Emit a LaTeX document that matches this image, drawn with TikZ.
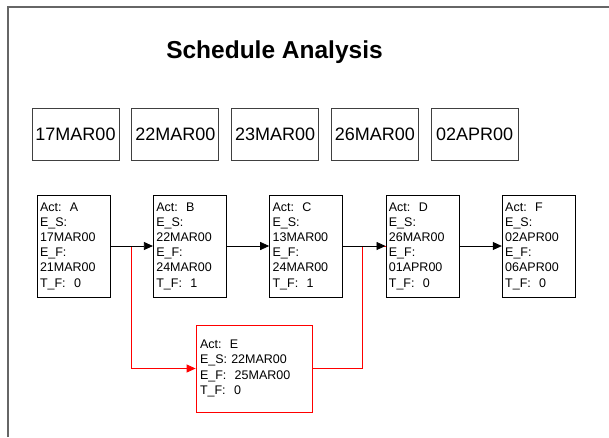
\documentclass[tikz,border=0pt]{standalone}
\usepackage{fontspec}
\setmainfont{Liberation Sans}
\usetikzlibrary{positioning,arrows.meta}

\begin{document}
\begin{tikzpicture}[x=1pt, y=-1pt,
    node distance=12pt,
    datebox/.style={rectangle, draw=black!75, line width=0.8pt, minimum width=87pt, minimum height=52pt, inner sep=0pt, text centered, font=\fontsize{18}{22}\selectfont},
    actbox/.style={rectangle, draw=black, line width=0.8pt, minimum width=73pt, minimum height=102pt, text width=67pt, inner sep=3pt, align=left, font=\fontsize{12.5}{15.2}\selectfont},
    critbox/.style={actbox, draw=red, minimum width=116pt, minimum height=87pt, text width=108pt, inner sep=4pt},
    arrow/.style={-{Triangle[length=9pt, width=8pt]}, line width=0.8pt},
    redline/.style={draw=red, line width=0.8pt},
    redarrow/.style={redline, -{Triangle[length=9pt, width=8pt]}, red}
]

\useasboundingbox (0,0) rectangle (609,437);

% Frame
\draw [black!60, line width=1.5pt] (8,437) -- (8,7) -- (609,7);

% Title
\node (title) at (274.5,52) {\fontsize{24.5}{29}\selectfont\bfseries Schedule Analysis};

% Dates
\node (d1) [datebox] at (75.5,134) {17MAR00};
\node (d2) [datebox, right=of d1] {22MAR00};
\node (d3) [datebox, right=of d2] {23MAR00};
\node (d4) [datebox, right=of d3] {26MAR00};
\node (d5) [datebox, right=of d4] {02APR00};

% Activities
\node (A) [actbox] at (73.5,246) {Act:\ \ A\\E\_S:\\17MAR00\\E\_F:\\21MAR00\\T\_F:\ \ 0};
\node (B) [actbox, right=42.5pt of A] {Act:\ \ B\\E\_S:\\22MAR00\\E\_F:\\24MAR00\\T\_F:\ \ 1};
\node (C) [actbox, right=42.5pt of B] {Act:\ \ C\\E\_S:\\13MAR00\\E\_F:\\24MAR00\\T\_F:\ \ 1};
\node (D) [actbox, right=42.5pt of C] {Act:\ \ D\\E\_S:\\26MAR00\\E\_F:\\01APR00\\T\_F:\ \ 0};
\node (F) [actbox, right=42.5pt of D] {Act:\ \ F\\E\_S:\\02APR00\\E\_F:\\06APR00\\T\_F:\ \ 0};

% Critical branch
\node (E) [critbox] at (254,368.5) {Act:\ \ E\\E\_S: 22MAR00\\E\_F:\ \ 25MAR00\\T\_F:\ \ 0};

\coordinate (split) at (131,246);
\coordinate (join) at (362,246);

% Arrows
\draw [redarrow] (A.east) -- (split) |- (E.west);
\draw [redline] (E.east) -| (join) -- (D.west);

\draw [arrow] (A) -- (B);
\draw [arrow] (B) -- (C);
\draw [arrow] (C) -- (D);
\draw [arrow] (D) -- (F);

\end{tikzpicture}
\end{document}
